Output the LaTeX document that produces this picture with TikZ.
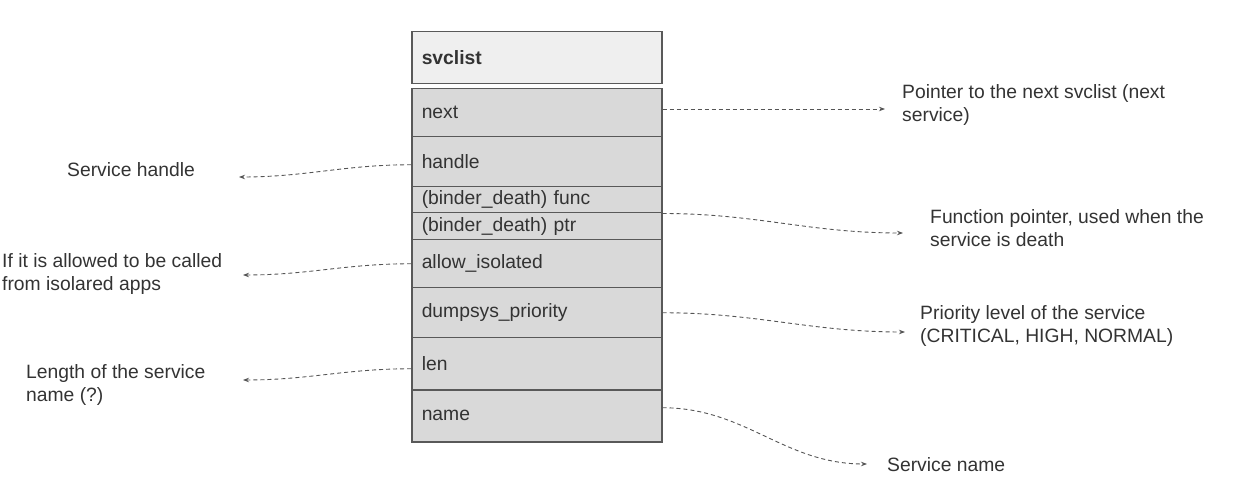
\documentclass[tikz,border=0pt]{standalone}
\usepackage{fontspec}
\setmainfont{Liberation Sans}
\usetikzlibrary{arrows.meta}
\definecolor{boxline}{HTML}{595959}
\definecolor{titlefill}{HTML}{EFEFEF}
\definecolor{fieldfill}{HTML}{D9D9D9}
\definecolor{txt}{HTML}{333333}
\definecolor{conncol}{HTML}{555555}
\begin{document}
\begin{tikzpicture}[x=1pt,y=-1pt,
  font=\fontsize{19.3}{23}\selectfont,
  cell/.style={draw=boxline,line width=1.5pt,text=txt,text width=230pt,align=left,
    inner xsep=10pt,inner ysep=0pt,anchor=north west},
  titlecell/.style={cell,fill=titlefill},
  field/.style={cell,fill=fieldfill},
  note/.style={text=txt,inner sep=0pt,anchor=west,align=left},
  conn/.style={draw=conncol,line width=0.9pt,dash pattern=on 4pt off 3pt,
    -{Stealth[length=6pt,width=4.5pt]}}]
\useasboundingbox (0,0) rectangle (1250,502);
% structure
\node[titlecell,minimum height=52pt] (title) at (411,31) {\bfseries svclist};
\node[field,minimum height=48pt] (next) at (411,88) {next};
\node[field,minimum height=50pt] (handle) at (411,136) {handle};
\node[field,minimum height=26pt] (func) at (411,186) {(binder\_death) func};
\node[field,minimum height=27pt] (ptr) at (411,212) {(binder\_death) ptr};
\node[field,minimum height=48pt] (allow) at (411,239) {allow\_isolated};
\node[field,minimum height=50pt] (dump) at (411,287) {dumpsys\_priority};
\node[field,minimum height=52pt] (len) at (411,337) {len};
\node[field,minimum height=52pt] (name) at (411,389) {name};
% notes
\node[note] (nnext) at (902,105.5) {Pointer to the next svclist (next\\service)};
\node[note] (nhandle) at (67,170) {Service handle};
\node[note] (nfunc) at (930,228) {Function pointer, used when the\\service is death};
\node[note] (nallow) at (2,274) {If it is allowed to be called\\from isolared apps};
\node[note] (ndump) at (920,326) {Priority level of the service\\(CRITICAL, HIGH, NORMAL)};
\node[note] (nlen) at (26,385) {Length of the service\\name (?)};
\node[note] (nname) at (887,465) {Service name};
% arrow tips
\coordinate (tnext) at (885,109);
\coordinate (thandle) at (239,177);
\coordinate (tfunc) at (903,233);
\coordinate (tallow) at (243,275);
\coordinate (tdump) at (905,332);
\coordinate (tlen) at (243,380);
\coordinate (tname) at (867,464);
\coordinate (snext) at (next.east |- tnext);
\coordinate (sname) at ([yshift=8pt]name.east);
% connectors
\draw[conn] (snext) -- (tnext);
\draw[conn] ([yshift=-3pt]handle.west) to[out=180,in=0] (thandle);
\draw[conn] (func.south east) to[out=0,in=180] (tfunc);
\draw[conn] (allow.west) to[out=180,in=0] (tallow);
\draw[conn] (dump.east) to[out=0,in=180] (tdump);
\draw[conn] ([yshift=-5pt]len.west) to[out=180,in=0] (tlen);
\draw[conn] (sname) to[out=0,in=180] (tname);
\end{tikzpicture}
\end{document}
